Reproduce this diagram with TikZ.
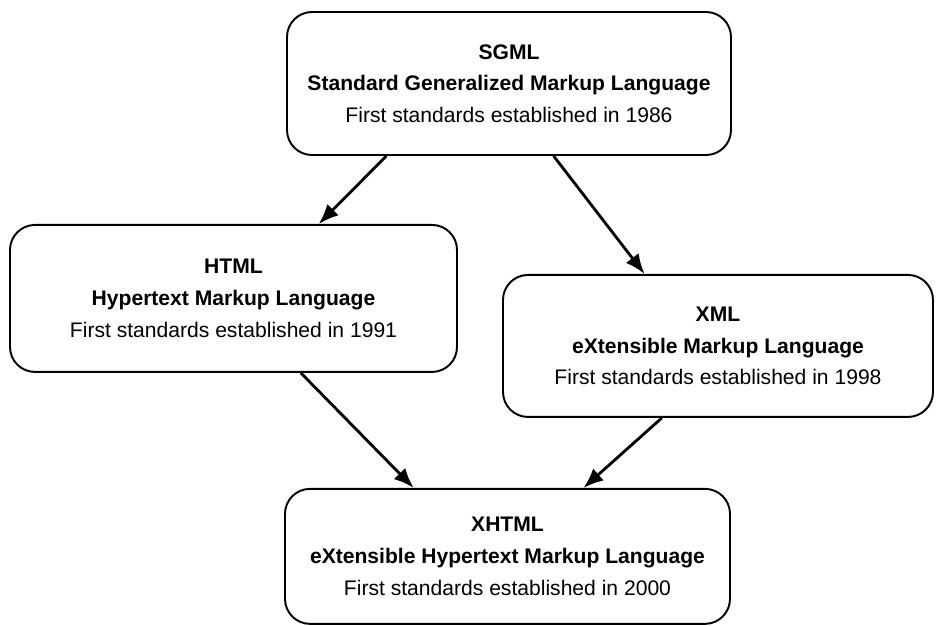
\documentclass[tikz,border=0pt]{standalone}
\usepackage{fontspec}
\setmainfont{Liberation Sans}
\usetikzlibrary{positioning, arrows.meta, calc}
\tikzset{
    >={Latex[length=4mm, width=3.2mm]},
    every node/.style={rounded corners=0.5cm}
}

\begin{document}
\begin{tikzpicture}[
    node distance=1.4cm,
    lang/.style={draw, line width=1.1pt, rounded corners=0.5cm, align=center, inner sep=0pt,
        font=\fontsize{12}{18}\selectfont}
]
\useasboundingbox (0,0) rectangle (18.72,-12.52);

\node[lang, minimum width=8.88cm, minimum height=2.86cm] (sgml) at (10.18,-1.67)
    {\textbf{SGML}\\ \textbf{Standard Generalized Markup Language}\\ First standards established in 1986};
\node[lang, minimum width=8.94cm, minimum height=2.94cm] (html) [below=1.36cm of sgml, xshift=-5.51cm]
    {\textbf{HTML}\\ \textbf{Hypertext Markup Language}\\ First standards established in 1991};
\node[lang, minimum width=8.6cm, minimum height=2.84cm] (xml) [below=2.36cm of sgml, xshift=4.18cm]
    {\textbf{XML}\\ \textbf{eXtensible Markup Language}\\ First standards established in 1998};
\node[lang, minimum width=8.9cm, minimum height=2.7cm] (xhtml) [below=2.3cm of html, xshift=5.48cm]
    {\textbf{XHTML}\\ \textbf{eXtensible Hypertext Markup Language}\\ First standards established in 2000};

% Arrows
\draw[->, line width=1.6pt] ($(sgml.south west)!0.225!(sgml.south east)$) -- ($(html.north west)!0.69!(html.north east)$);
\draw[->, line width=1.6pt] ($(sgml.south west)!0.6!(sgml.south east)$) -- ($(xml.north west)!0.33!(xml.north east)$);
\draw[->, line width=1.6pt] ($(html.south west)!0.65!(html.south east)$) -- ($(xhtml.north west)!0.29!(xhtml.north east)$);
\draw[->, line width=1.6pt] ($(xml.south west)!0.37!(xml.south east)$) -- ($(xhtml.north west)!0.67!(xhtml.north east)$);

\end{tikzpicture}
\end{document}
